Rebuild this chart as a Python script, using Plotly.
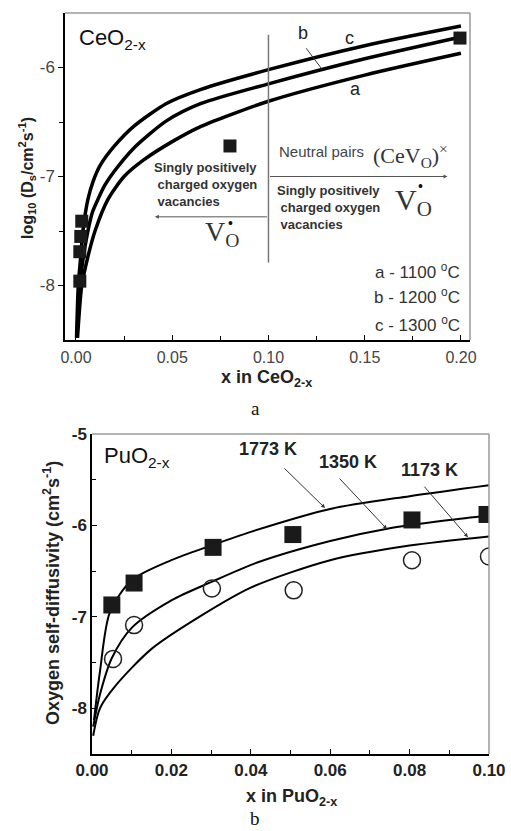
import plotly.graph_objects as go

# ---------------- Data: panel a (CeO2-x) ----------------
ce_a_x = [0.0008, 0.003, 0.006, 0.0099, 0.0166, 0.025, 0.035, 0.05, 0.065, 0.1, 0.15, 0.2]
ce_a_y = [-8.48, -8.0, -7.75, -7.5, -7.21, -7.0, -6.85, -6.68, -6.54, -6.31, -6.07, -5.87]
ce_b_x = [0.0005, 0.002, 0.004, 0.0062, 0.0085, 0.0114, 0.015, 0.02, 0.03, 0.047, 0.065, 0.1, 0.15, 0.2]
ce_b_y = [-8.48, -8.0, -7.72, -7.5, -7.33, -7.21, -7.08, -6.95, -6.74, -6.49, -6.33, -6.15, -5.92, -5.72]
ce_c_x = [0.0003, 0.0012, 0.0024, 0.0036, 0.0062, 0.009, 0.0125, 0.02, 0.03, 0.047, 0.065, 0.1, 0.15, 0.2]
ce_c_y = [-8.48, -8.0, -7.75, -7.5, -7.21, -7.04, -6.9, -6.72, -6.54, -6.33, -6.2, -6.02, -5.8, -5.62]
ce_pts_x = [0.003, 0.0025, 0.002, 0.002, 0.08, 0.1995]
ce_pts_y = [-7.41, -7.55, -7.69, -7.96, -6.72, -5.73]
ce_xticks = [0.0, 0.05, 0.10, 0.15, 0.20]
ce_xticklabels = ["0.00", "0.05", "0.10", "0.15", "0.20"]
ce_yticks = [-6, -7, -8]
ce_yticklabels = ["-6", "-7", "-8"]
ce_legend = ["a - 1100 <sup>o</sup>C", "b - 1200 <sup>o</sup>C", "c - 1300 <sup>o</sup>C"]

# ---------------- Data: panel b (PuO2-x) ----------------
pu_1773_x = [0.0005, 0.002, 0.0045, 0.01, 0.02, 0.03, 0.04, 0.06, 0.08, 0.1]
pu_1773_y = [-8.13, -7.6, -6.95, -6.6, -6.38, -6.22, -6.07, -5.82, -5.68, -5.56]
pu_1350_x = [0.0003, 0.002, 0.005, 0.01, 0.02, 0.03, 0.042, 0.06, 0.075, 0.09, 0.1]
pu_1350_y = [-8.2, -7.85, -7.45, -7.12, -6.82, -6.62, -6.40, -6.17, -6.03, -5.94, -5.89]
pu_1173_x = [0.0003, 0.002, 0.006, 0.015, 0.027, 0.04, 0.06, 0.08, 0.1]
pu_1173_y = [-8.3, -8.0, -7.75, -7.35, -7.0, -6.68, -6.38, -6.22, -6.12]
pu_sq_x = [0.005, 0.0106, 0.0305, 0.0506, 0.0806, 0.0995]
pu_sq_y = [-6.87, -6.63, -6.24, -6.10, -5.94, -5.88]
pu_ci_x = [0.0053, 0.0106, 0.0302, 0.0508, 0.0806, 0.1]
pu_ci_y = [-7.46, -7.09, -6.69, -6.71, -6.38, -6.34]
pu_xticks = [0.0, 0.02, 0.04, 0.06, 0.08, 0.10]
pu_xticklabels = ["0.00", "0.02", "0.04", "0.06", "0.08", "0.10"]
pu_yticks = [-5, -6, -7, -8]
pu_yticklabels = ["-5", "-6", "-7", "-8"]
pu_labels = ["1773 K", "1350 K", "1173 K"]

W, H = 511, 831
SANS = "Liberation Sans, Arial, sans-serif"
SERIF = "Liberation Serif, Times New Roman, serif"

fig = go.Figure()

for xs, ys in [(ce_a_x, ce_a_y), (ce_b_x, ce_b_y), (ce_c_x, ce_c_y)]:
    fig.add_trace(go.Scatter(x=xs, y=ys, mode="lines", line=dict(color="black", width=3.5, shape="spline", smoothing=0.7),
                             xaxis="x", yaxis="y", showlegend=False, hoverinfo="skip"))
fig.add_trace(go.Scatter(x=ce_pts_x, y=ce_pts_y, mode="markers",
                         marker=dict(symbol="square", size=13, color="#1a1a1a"),
                         xaxis="x", yaxis="y", showlegend=False))

for xs, ys in [(pu_1773_x, pu_1773_y), (pu_1350_x, pu_1350_y), (pu_1173_x, pu_1173_y)]:
    fig.add_trace(go.Scatter(x=xs, y=ys, mode="lines", line=dict(color="black", width=2, shape="spline", smoothing=0.8),
                             xaxis="x2", yaxis="y2", showlegend=False, hoverinfo="skip"))
fig.add_trace(go.Scatter(x=pu_sq_x, y=pu_sq_y, mode="markers",
                         marker=dict(symbol="square", size=17, color="#1a1a1a"),
                         xaxis="x2", yaxis="y2", showlegend=False))
fig.add_trace(go.Scatter(x=pu_ci_x, y=pu_ci_y, mode="markers",
                         marker=dict(symbol="circle-open", size=17, color="#222", line=dict(width=1.5)),
                         xaxis="x2", yaxis="y2", showlegend=False))

axis_common = dict(showgrid=False, zeroline=False, showline=True, linecolor="black", linewidth=1.5,
                   ticklen=5, tickwidth=1.2, tickcolor="black", automargin=False)

fig.update_layout(
    template="none",
    width=W, height=H, margin=dict(l=0, r=0, t=0, b=0, pad=0), autosize=False,
    paper_bgcolor="white", plot_bgcolor="white", showlegend=False,
    xaxis=dict(domain=[65 / W, 470 / W], range=[-0.0057, 0.2047], anchor="y",
               tickvals=ce_xticks, ticktext=ce_xticklabels, ticks="inside", ticklabelstandoff=2,
               tickfont=dict(family=SANS, size=16, color="#444"),
               minor=dict(tickvals=[0.025, 0.075, 0.125, 0.175], ticks="inside", ticklen=4, tickcolor="black"),
               **axis_common),
    yaxis=dict(domain=[1 - 340 / H, 1 - 13 / H], range=[-8.5, -5.5], anchor="x",
               tickvals=ce_yticks, ticktext=ce_yticklabels, ticks="outside",
               tickfont=dict(family=SANS, size=17, color="#444"),
               minor=dict(tickvals=[-6.5, -7.5], ticks="outside", ticklen=4, tickcolor="black"),
               **axis_common),
    xaxis2=dict(domain=[92 / W, 489 / W], range=[0, 0.1], anchor="y2",
                tickvals=pu_xticks, ticktext=pu_xticklabels, ticks="inside",
                tickfont=dict(family=SANS, size=17, color="#222", weight="bold"),
                minor=dict(tickvals=[0.01, 0.03, 0.05, 0.07, 0.09], ticks="inside", ticklen=4, tickcolor="black"),
                **axis_common),
    yaxis2=dict(domain=[1 - 754 / H, 1 - 434 / H], range=[-8.5, -5], anchor="x2",
                tickvals=pu_yticks, ticktext=pu_yticklabels, ticks="inside",
                tickfont=dict(family=SANS, size=17, color="#222", weight="bold"),
                minor=dict(tickvals=[-5.5, -6.5, -7.5], ticks="inside", ticklen=4, tickcolor="black"),
                **axis_common),
)

shapes = []
for xr, yr in [("x", "y"), ("x2", "y2")]:
    shapes.append(dict(type="line", xref=xr + " domain", yref=yr + " domain", x0=0, x1=1, y0=1, y1=1,
                       line=dict(color="#9a9a9a", width=1.5)))
    shapes.append(dict(type="line", xref=xr + " domain", yref=yr + " domain", x0=1, x1=1, y0=0, y1=1,
                       line=dict(color="#9a9a9a", width=1.5)))
shapes.append(dict(type="line", xref="x", yref="y", x0=0.1, x1=0.1, y0=-7.79, y1=-5.70,
                   line=dict(color="#777", width=1.5)))
fig.update_layout(shapes=shapes)

ann = []
def txt(x, y, t, xref="x", yref="y", size=14, family=SANS, color="#222", bold=False, xanchor="center",
        yanchor="middle", align="left", angle=0):
    ann.append(dict(x=x, y=y, xref=xref, yref=yref, text=t, showarrow=False, xanchor=xanchor, yanchor=yanchor,
                    align=align, textangle=angle, borderpad=0,
                    font=dict(family=family, size=size, color=color, weight="bold" if bold else "normal")))

def arrow(x, y, ax, ay, xref="x", yref="y", head=2, width=1.2, color="#333", size=1.0):
    ann.append(dict(x=x, y=y, ax=ax, ay=ay, xref=xref, yref=yref, axref=xref, ayref=yref, text="",
                    showarrow=True, arrowhead=head, arrowwidth=width, arrowcolor=color, arrowsize=size))

# ---- panel a annotations ----
txt(0.001, -5.74, "CeO<sub>2-x</sub>", size=22, color="#111", xanchor="left")
txt(0.118, -5.68, "b", size=18)
txt(0.142, -5.73, "c", size=18)
txt(0.145, -6.20, "a", size=18)
arrow(0.128, -6.02, 0.119, -5.81, head=0, width=1.0)
txt(0.040, -7.07, "Singly positively<br> charged oxygen<br> vacancies", size=13, bold=True, color="#333",
    xanchor="left")
arrow(0.041, -7.37, 0.1, -7.37, head=2, width=1.0, color="#555", size=0.8)
txt(0.0665, -7.52, "V<sub>O</sub>", size=28, family=SERIF, color="#333", xanchor="left")
txt(0.0805, -7.43, "•", size=14, family=SANS, color="#111")
txt(0.105, -6.77, "Neutral pairs", size=15, color="#444", xanchor="left")
txt(0.154, -6.81, "(CeV<sub>O</sub>)<sup>×</sup>", size=22, family=SERIF, color="#333", xanchor="left")
arrow(0.193, -7.0, 0.1, -7.0, head=2, width=1.0, color="#555", size=0.8)
txt(0.104, -7.28, "Singly positively<br> charged oxygen<br> vacancies", size=13, bold=True, color="#333",
    xanchor="left")
txt(0.165, -7.23, "V<sub>O</sub>", size=30, family=SERIF, color="#333", xanchor="left")
txt(0.179, -7.09, "•", size=14, family=SANS, color="#111")
for yv, t in zip([-7.87, -8.10, -8.35], ce_legend):
    txt(0.2, yv, t, size=17, color="#333", xanchor="right")

# ---- panel b annotations ----
txt(0.0028, -5.25, "PuO<sub>2-x</sub>", xref="x2", yref="y2", size=22, color="#111", xanchor="left")
for (lx, ly), t in zip([(0.0443, -5.16), (0.0645, -5.31), (0.0851, -5.39)], pu_labels):
    txt(lx, ly, t, xref="x2", yref="y2", size=18, bold=True, color="#222")
arrow(0.0587, -5.81, 0.0481, -5.36, xref="x2", yref="y2", head=2, width=1.0, size=0.8)
arrow(0.0743, -6.04, 0.062, -5.47, xref="x2", yref="y2", head=2, width=1.0, size=0.8)
arrow(0.0947, -6.13, 0.0834, -5.56, xref="x2", yref="y2", head=2, width=1.0, size=0.8)

# ---- axis titles & captions (paper) ----
txt(266 / W, 1 - 378 / H, "x in CeO<sub>2-x</sub>", xref="paper", yref="paper", size=18, bold=True, color="#222")
txt(27 / W, 1 - 178 / H, "log<sub>10</sub> (D<sub>s</sub>/cm<sup>2</sup>s<sup>-1</sup>)", xref="paper",
    yref="paper", size=16, bold=True, color="#222", angle=-90)
txt(291 / W, 1 - 797 / H, "x in PuO<sub>2-x</sub>", xref="paper", yref="paper", size=18, bold=True, color="#222")
txt(51 / W, 1 - 593 / H, "Oxygen self-diffusivity (cm<sup>2</sup>s<sup>-1</sup>)", xref="paper", yref="paper",
    size=18, bold=True, color="#222", angle=-90)
txt(255 / W, 1 - 408 / H, "a", xref="paper", yref="paper", size=19, family=SERIF, color="#111")
txt(255 / W, 1 - 818 / H, "b", xref="paper", yref="paper", size=19, family=SERIF, color="#111")

fig.update_layout(annotations=ann)
fig.write_html("out.html")
